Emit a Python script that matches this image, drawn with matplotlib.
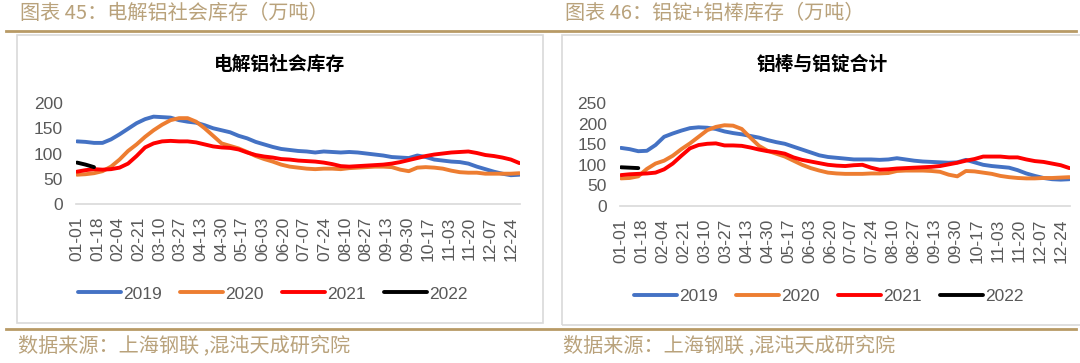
import numpy as np
import matplotlib
matplotlib.use("Agg")
import matplotlib.pyplot as plt
from matplotlib.lines import Line2D
from matplotlib.patches import Rectangle

plt.rcParams['font.family'] = ['Noto Sans CJK SC', 'DejaVu Sans']

# weekly readings, day offset from 01-01
WEEK_DAY = np.arange(0, 365, 7)

TICK_LABELS = ["01-01", "01-18", "02-04", "02-21", "03-10", "03-27", "04-13", "04-30",
               "05-17", "06-03", "06-20", "07-07", "07-24", "08-10", "08-27", "09-13",
               "09-30", "10-17", "11-03", "11-20", "12-07", "12-24"]
TICK_DAY = np.arange(0, 358, 17)

YEARS = ["2019", "2020", "2021", "2022"]

# 电解铝社会库存
SOCIAL_2019 = [124, 123, 121, 121, 128, 138, 149, 160, 168, 173,
               172, 171, 166, 163, 161, 156, 150, 146, 142, 135,
               130, 123, 118, 113, 109, 107, 105, 104, 102, 104,
               103, 102, 103, 102, 100, 98, 96, 93, 92, 91,
               96, 93, 88, 86, 84, 83, 80, 74, 69, 64,
               60, 57, 58]
SOCIAL_2020 = [58, 59, 61, 65, 74, 88, 105, 118, 133, 146,
               157, 166, 170, 170, 163, 150, 135, 120, 115, 110,
               103, 95, 89, 84, 78, 74, 72, 70, 69, 70,
               70, 69, 71, 72, 73, 74, 74, 73, 68, 65,
               72, 73, 72, 70, 66, 63, 62, 62, 60, 60,
               60, 60, 61]
SOCIAL_2021 = [64, 67, 69, 68, 69, 72, 80, 95, 112, 120,
               124, 125, 124, 124, 122, 118, 114, 112, 111, 108,
               102, 97, 94, 92, 89, 88, 86, 85, 84, 82,
               79, 75, 74, 75, 76, 77, 78, 80, 83, 87,
               91, 95, 98, 100, 102, 103, 104, 101, 97, 95,
               92, 88, 81]
SOCIAL_2022 = [82, 78, 73]

# 铝棒与铝锭合计
TOTAL_2019 = [141, 138, 133, 134, 148, 168, 176, 183, 189, 191,
              190, 187, 181, 177, 174, 170, 166, 160, 155, 151,
              144, 137, 130, 123, 119, 117, 115, 113, 113, 113,
              112, 113, 116, 113, 110, 108, 107, 106, 105, 106,
              112, 106, 100, 97, 95, 93, 87, 79, 73, 68,
              65, 64, 65]
TOTAL_2020 = [67, 68, 72, 90, 103, 110, 122, 138, 152, 168,
              184, 192, 196, 195, 187, 166, 146, 134, 127, 120,
              110, 100, 92, 86, 81, 79, 78, 78, 78, 79,
              79, 80, 85, 86, 86, 86, 85, 83, 76, 72,
              85, 84, 81, 78, 73, 70, 68, 67, 67, 68,
              68, 69, 70]
TOTAL_2021 = [75, 77, 78, 79, 81, 89, 103, 122, 140, 148,
              151, 152, 147, 147, 146, 142, 137, 133, 131, 127,
              118, 112, 108, 104, 100, 98, 97, 99, 100, 93,
              88, 89, 91, 92, 93, 94, 95, 97, 101, 105,
              110, 114, 120, 120, 120, 118, 118, 113, 109, 107,
              103, 99, 92]
TOTAL_2022 = [94, 93, 92]

COLORS = ["#4472C4", "#ED7D31", "#FF0000", "#000000"]
GOLD = "#b89a66"
GOLD_TEXT = "#b9a27b"
GRAY = "#595959"
W, H = 1080.0, 363.0


def px(x0, y0, x1, y1):
    # pixel box -> figure fraction rect
    return [x0 / W, 1 - y1 / H, (x1 - x0) / W, (y1 - y0) / H]


def draw_panel(fig, rect, series, ymax, title, title_xy, legend_xy):
    ax = fig.add_axes(rect)
    handles = []
    for vals, color, name in zip(series, COLORS, YEARS):
        line, = ax.plot(WEEK_DAY[:len(vals)], vals, color=color, lw=2.8,
                        solid_capstyle="round", label=name)
        handles.append(line)
    ax.set_xlim(-0.5, 364.5)
    ax.set_ylim(0, ymax)
    ax.set_yticks(np.arange(0, ymax + 1, 50))
    ax.set_xticks(TICK_DAY)
    ax.set_xticklabels(TICK_LABELS, rotation=90)
    for lab in ax.get_xticklabels() + ax.get_yticklabels():
        lab.set_family("Liberation Sans")
        lab.set_fontsize(12.5)
        lab.set_color(GRAY)
    ax.tick_params(axis="x", length=0, pad=9)
    ax.tick_params(axis="y", length=0, pad=10)
    for s in ["top", "left", "right"]:
        ax.spines[s].set_visible(False)
    ax.spines["bottom"].set_color("#d9d9d9")
    ax.spines["bottom"].set_linewidth(1.2)

    fig.text(title_xy[0] / W, 1 - title_xy[1] / H, title, ha="center", va="center",
             fontsize=13.5, fontweight="bold", color="#000000")
    fig.legend(handles, YEARS, loc="center", bbox_to_anchor=(legend_xy[0] / W, 1 - legend_xy[1] / H),
               ncol=4, frameon=False, handlelength=2.45, handletextpad=0.15, columnspacing=1.05,
               prop={"family": "Liberation Sans", "size": 12.5}, labelcolor=GRAY)
    return ax


fig = plt.figure(figsize=(10.8, 3.63), dpi=100)

# frames and rules
fig.add_artist(Rectangle((17 / W, 1 - 323 / H), (543 - 17) / W, (323 - 35) / H,
                         transform=fig.transFigure, fill=False, ec="#d9d9d9", lw=1.2))
fig.add_artist(Rectangle((562 / W, 1 - 325 / H), (1090 - 562) / W, (325 - 35) / H,
                         transform=fig.transFigure, fill=False, ec="#d9d9d9", lw=1.2))
fig.add_artist(Line2D([6 / W, 1076 / W], [1 - 31 / H] * 2, color=GOLD, lw=2))
fig.add_artist(Line2D([6 / W, 1076 / W], [1 - 329 / H] * 2, color=GOLD, lw=2))

fig.text(20 / W, 1 - 13 / H, "图表 45：电解铝社会库存（万吨）", va="center", fontsize=14.5, color=GOLD_TEXT)
fig.text(565 / W, 1 - 13 / H, "图表 46：铝锭+铝棒库存（万吨）", va="center", fontsize=14.5, color=GOLD_TEXT)
fig.text(18 / W, 1 - 347 / H, "数据来源：上海钢联 ,混沌天成研究院", va="center", fontsize=14.5, color=GOLD_TEXT)
fig.text(563 / W, 1 - 347 / H, "数据来源：上海钢联 ,混沌天成研究院", va="center", fontsize=14.5, color=GOLD_TEXT)

draw_panel(fig, px(76.4, 103, 520, 204), [SOCIAL_2019, SOCIAL_2020, SOCIAL_2021, SOCIAL_2022],
           200, "电解铝社会库存", (280, 64), (273, 294))
draw_panel(fig, px(620.4, 103, 1070, 206), [TOTAL_2019, TOTAL_2020, TOTAL_2021, TOTAL_2022],
           250, "铝棒与铝锭合计", (822, 64), (829, 296))

fig.savefig("out.png", dpi=100)
